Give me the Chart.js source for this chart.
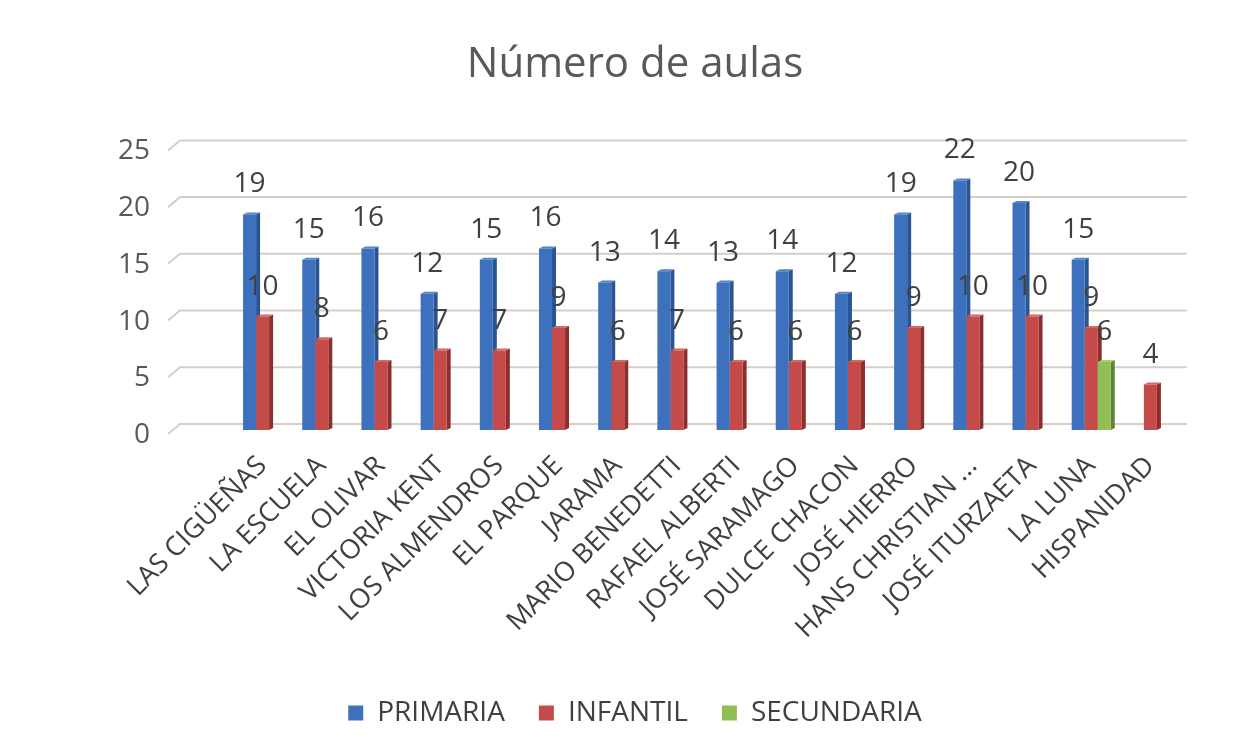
<!DOCTYPE html>
<html>
<head>
<meta charset="utf-8">
<script src="https://cdn.jsdelivr.net/npm/chart.js@4.4.1/dist/chart.umd.min.js"></script>
<style>
  html, body { margin: 0; padding: 0; background: #ffffff; }
  #wrap { width: 1258px; height: 753px; }
</style>
</head>
<body>
<div id="wrap"><canvas id="c" width="1258" height="753"></canvas></div>
<script>
const categories = ["LAS CIGÜEÑAS", "LA ESCUELA", "EL OLIVAR", "VICTORIA KENT", "LOS ALMENDROS", "EL PARQUE", "JARAMA", "MARIO BENEDETTI", "RAFAEL ALBERTI", "JOSÉ SARAMAGO", "DULCE CHACON", "JOSÉ HIERRO", "HANS CHRISTIAN ...", "JOSÉ ITURZAETA", "LA LUNA", "HISPANIDAD"];
const primaria   = [19, 15, 16, 12, 15, 16, 13, 14, 13, 14, 12, 19, 22, 20, 15, null];
const infantil   = [10, 8, 6, 7, 7, 9, 6, 7, 6, 6, 6, 9, 10, 10, 9, 4];
const secundaria = [null, null, null, null, null, null, null, null, null, null, null, null, null, null, 6, null];
const yTicks = [0, 5, 10, 15, 20, 25];

const FONT = "'Open Sans', 'DejaVu Sans', sans-serif";
const sideColors = ['#2b5592', '#8a2f2d', '#5f8534'];
const topColors  = ['#5584c8', '#d06a67', '#a9cc74'];

const backGrid = {
  id: 'backGrid',
  beforeDatasetsDraw(chart) {
    const ctx = chart.ctx, y = chart.scales.y, ca = chart.chartArea;
    ctx.save();
    ctx.strokeStyle = '#d9cdc9';
    ctx.lineWidth = 2;
    yTicks.forEach(v => {
      const py = y.getPixelForValue(v);
      ctx.beginPath();
      ctx.moveTo(ca.left - 65, py + 4);
      ctx.lineTo(ca.left - 53, py - 6);
      ctx.lineTo(ca.right + 7, py - 6);
      ctx.stroke();
    });
    // 3D side and top faces (drawn before the fronts so neighbours cover them)
    chart.data.datasets.forEach((ds, di) => {
      const meta = chart.getDatasetMeta(di);
      meta.data.forEach((el, i) => {
        if (ds.data[i] == null) return;
        const w = el.width, r = el.x + w / 2, l = el.x - w / 2;
        const top = el.y, base = el.base, d = 4, dy = 2;
        ctx.fillStyle = sideColors[di];
        ctx.beginPath();
        ctx.moveTo(r, top); ctx.lineTo(r + d, top - dy); ctx.lineTo(r + d, base - dy); ctx.lineTo(r, base);
        ctx.closePath(); ctx.fill();
        ctx.fillStyle = topColors[di];
        ctx.beginPath();
        ctx.moveTo(l, top); ctx.lineTo(l + d, top - dy); ctx.lineTo(r + d, top - dy); ctx.lineTo(r, top);
        ctx.closePath(); ctx.fill();
      });
    });
    ctx.restore();
  }
};

const valueLabels = {
  id: 'valueLabels',
  afterDatasetsDraw(chart) {
    const ctx = chart.ctx;
    ctx.save();
    ctx.font = "28px " + FONT;
    ctx.fillStyle = '#404040';
    ctx.textAlign = 'center';
    ctx.textBaseline = 'alphabetic';
    chart.data.datasets.forEach((ds, di) => {
      const meta = chart.getDatasetMeta(di);
      meta.data.forEach((el, i) => {
        const v = ds.data[i];
        if (v == null) return;
        ctx.fillText(String(v), el.x, el.y - 22);
      });
    });
    ctx.restore();
  }
};

new Chart(document.getElementById('c'), {
  type: 'bar',
  data: {
    labels: categories,
    datasets: [
      { label: 'PRIMARIA', data: primaria, backgroundColor: '#3d71bd' },
      { label: 'INFANTIL', data: infantil, backgroundColor: '#c44b49' },
      { label: 'SECUNDARIA', data: secundaria, backgroundColor: '#8fbf55' }
    ]
  },
  options: {
    responsive: false,
    animation: false,
    events: [],
    categoryPercentage: 0.66,
    barPercentage: 1.0,
    layout: { padding: { left: 90, right: 78, top: 0, bottom: 16 } },
    plugins: {
      title: {
        display: true,
        text: 'Número de aulas',
        color: '#595959',
        font: { family: FONT, size: 42, weight: 'normal' },
        padding: { top: 40, bottom: 56 }
      },
      legend: {
        position: 'bottom',
        labels: {
          color: '#404040',
          font: { family: FONT, size: 28 },
          boxWidth: 15,
          boxHeight: 15,
          padding: 34
        }
      },
      tooltip: { enabled: false }
    },
    scales: {
      x: {
        grid: { display: false },
        border: { display: false },
        ticks: {
          color: '#404040',
          font: { family: FONT, size: 27 },
          minRotation: 45,
          maxRotation: 45,
          autoSkip: false,
          padding: 12
        },
        afterFit(scale) { scale.height = 235; }
      },
      y: {
        min: 0,
        max: 25,
        grid: { display: false },
        border: { display: false },
        ticks: {
          stepSize: 5,
          color: '#595959',
          font: { family: FONT, size: 28 },
          padding: 75,
          labelOffset: 5
        },
        afterFit(scale) { scale.width = 143; }
      }
    }
  },
  plugins: [backGrid, valueLabels]
});
</script>
</body>
</html>
